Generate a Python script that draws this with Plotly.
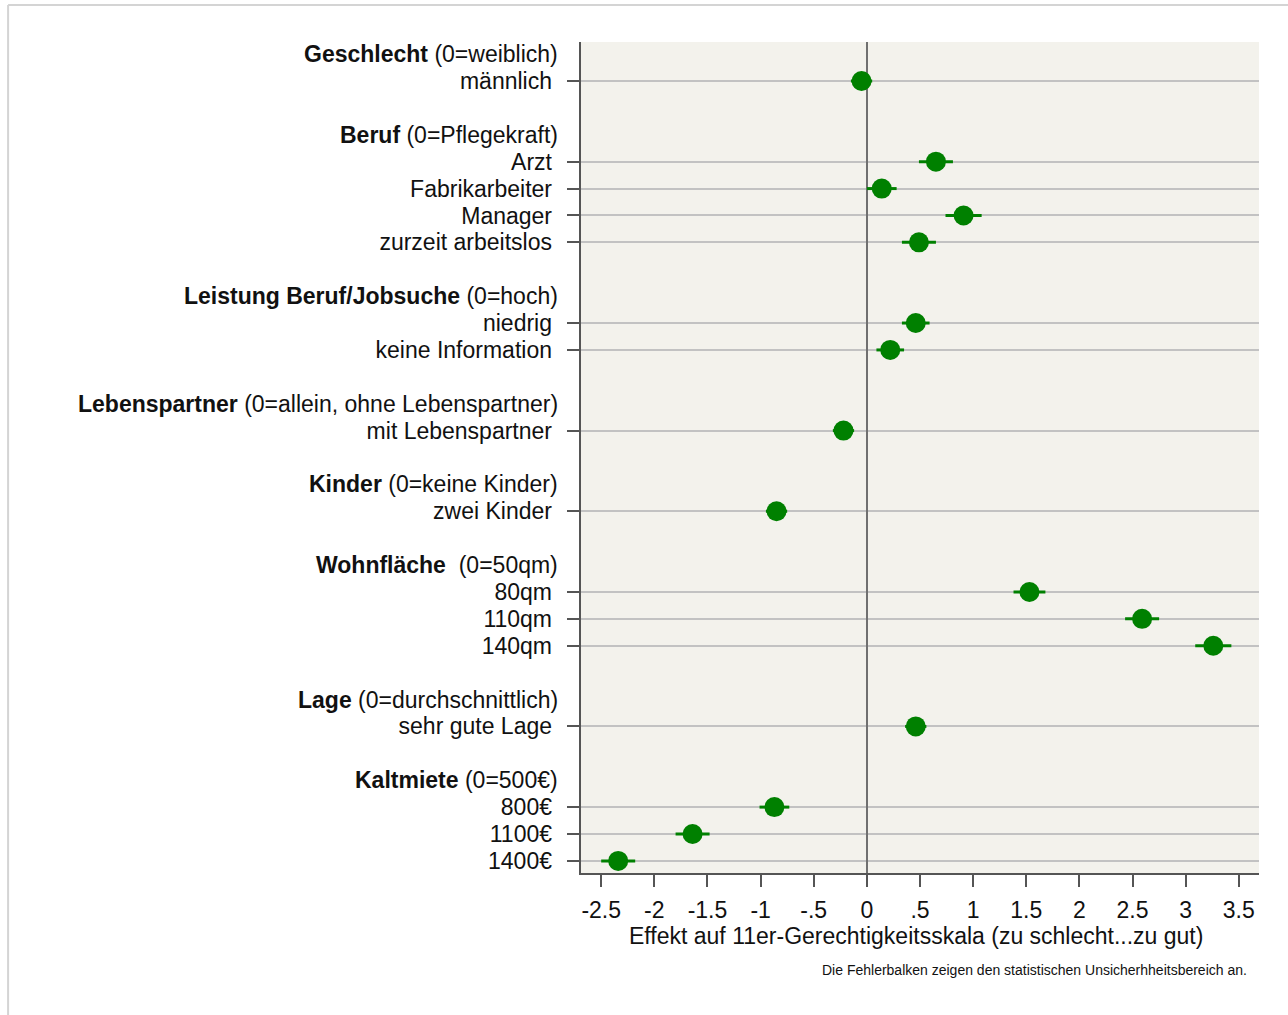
import plotly.graph_objects as go

# ---- data ----
group_names = ["Geschlecht", "Beruf", "Leistung Beruf/Jobsuche", "Lebenspartner",
               "Kinder", "Wohnfläche", "Lage", "Kaltmiete"]
group_refs = ["(0=weiblich)", "(0=Pflegekraft)", "(0=hoch)", "(0=allein, ohne Lebenspartner)",
              "(0=keine Kinder)", " (0=50qm)", "(0=durchschnittlich)", "(0=500€)"]
group_items = [
    ["männlich"],
    ["Arzt", "Fabrikarbeiter", "Manager", "zurzeit arbeitslos"],
    ["niedrig", "keine Information"],
    ["mit Lebenspartner"],
    ["zwei Kinder"],
    ["80qm", "110qm", "140qm"],
    ["sehr gute Lage"],
    ["800€", "1100€", "1400€"],
]
estimates = [-0.05, 0.65, 0.14, 0.91, 0.49, 0.46, 0.22, -0.22, -0.85,
             1.53, 2.59, 3.26, 0.46, -0.87, -1.64, -2.34]
errors = [0.10, 0.16, 0.14, 0.17, 0.16, 0.13, 0.13, 0.10, 0.10,
          0.15, 0.16, 0.17, 0.10, 0.14, 0.16, 0.16]
x_ticks = [-2.5, -2, -1.5, -1, -0.5, 0, 0.5, 1, 1.5, 2, 2.5, 3, 3.5]
x_ticktext = ["-2.5", "-2", "-1.5", "-1", "-.5", "0", ".5", "1", "1.5", "2", "2.5", "3", "3.5"]
x_title = "Effekt auf 11er-Gerechtigkeitsskala (zu schlecht...zu gut)"
footnote = "Die Fehlerbalken zeigen den statistischen Unsicherhheitsbereich an."

# ---- row layout ----
header_rows, item_rows, item_labels = [], [], []
r = 0
for items in group_items:
    header_rows.append(r)
    r += 1
    for it in items:
        item_rows.append(r)
        item_labels.append(it + " ")
        r += 1
    r += 1  # blank row
last_row = item_rows[-1]

FONT = "Liberation Sans, Arial, sans-serif"
GREEN = "#008000"
FS = 23

fig = go.Figure()
fig.add_trace(go.Scatter(
    x=estimates, y=item_rows, mode="markers",
    marker=dict(size=20, color=GREEN),
    error_x=dict(type="data", array=errors, color=GREEN, thickness=3, width=0),
    showlegend=False, hoverinfo="x+y",
))

annotations = []
for hr, name, ref in zip(header_rows, group_names, group_refs):
    annotations.append(dict(
        text=f"<b>{name}</b> {ref}", x=0, xref="paper", y=hr, yref="y",
        xanchor="right", yanchor="middle", xshift=-21, showarrow=False,
        font=dict(family=FONT, size=FS, color="#111"),
    ))
annotations.append(dict(
    text=x_title, x=0.5, xref="paper", y=-0.0755, yref="paper",
    xanchor="center", yanchor="middle", xshift=-4, showarrow=False,
    font=dict(family=FONT, size=FS, color="#111"),
))
annotations.append(dict(
    text=footnote, x=0.985, xref="paper", y=-0.117, yref="paper",
    xanchor="right", yanchor="middle", showarrow=False,
    font=dict(family="Liberation Sans Narrow, Arial Narrow, " + FONT, size=14, color="#111"),
))

shapes = [
    dict(type="line", xref="paper", yref="paper", x0=-0.845, x1=1.05, y0=1.0445, y1=1.0445,
         line=dict(color="#d4d4d4", width=2)),
    dict(type="line", xref="paper", yref="paper", x0=-0.845, x1=-0.845, y0=1.0445, y1=-0.175,
         line=dict(color="#d4d4d4", width=2)),
]

fig.update_layout(
    width=1288, height=1015,
    margin=dict(l=581, r=29, t=42, b=142),
    paper_bgcolor="white", plot_bgcolor="#f3f2ec",
    font=dict(family=FONT, size=FS, color="#111"),
    annotations=annotations, shapes=shapes,
)
fig.update_xaxes(
    range=[-2.69, 3.69], tickvals=x_ticks, ticktext=x_ticktext,
    showgrid=False, zeroline=True, zerolinecolor="#707070", zerolinewidth=2,
    showline=True, linecolor="#555", linewidth=2,
    ticks="outside", ticklen=12, tickwidth=1.5, tickcolor="#555",
    tickfont=dict(size=FS), ticklabelstandoff=3,
)
fig.update_yaxes(
    range=[last_row + 0.45, -0.45], tickvals=item_rows, ticktext=item_labels,
    showgrid=True, gridcolor="#c2c2c2", gridwidth=2, zeroline=False,
    showline=True, linecolor="#555", linewidth=2,
    ticks="outside", ticklen=12, tickwidth=1.5, tickcolor="#555",
    tickfont=dict(size=FS), ticklabelstandoff=4,
)

fig.write_html("out.html", config={"displayModeBar": False},
               post_script="document.body.style.margin='0';document.body.style.overflow='hidden';")
